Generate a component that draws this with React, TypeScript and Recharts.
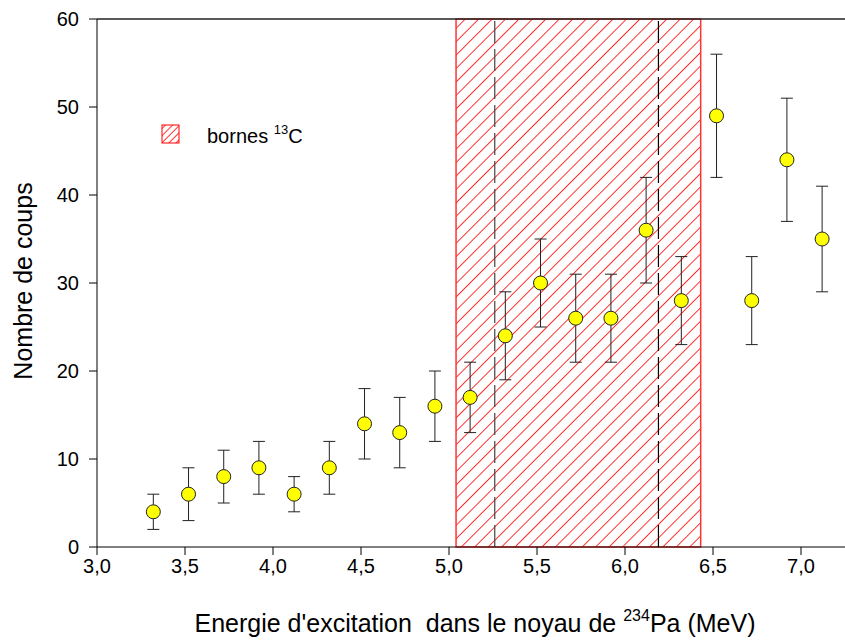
import React from "react";
import {
  ComposedChart,
  Scatter,
  ErrorBar,
  XAxis,
  YAxis,
  ReferenceArea,
  ReferenceLine,
  Customized,
} from "recharts";

// ── Données : spectre d'énergie d'excitation ────────────────────

const ENERGIES = [
  3.32, 3.52, 3.72, 3.92, 4.12, 4.32, 4.52, 4.72, 4.92, 5.12, 5.32, 5.52, 5.72,
  5.92, 6.12, 6.32, 6.52, 6.72, 6.92, 7.12,
];
const COUPS = [4, 6, 8, 9, 6, 9, 14, 13, 16, 17, 24, 30, 26, 26, 36, 28, 49, 28, 44, 35];
const ERREURS = [2, 3, 3, 3, 2, 3, 4, 4, 4, 4, 5, 5, 5, 5, 6, 5, 7, 5, 7, 6];

const X_TICKS = [3, 3.5, 4, 4.5, 5, 5.5, 6, 6.5, 7];
const Y_TICKS = [0, 10, 20, 30, 40, 50, 60];

// bornes 13C
const BORNE_MIN = 5.04;
const BORNE_MAX = 6.43;
const LIMITES = [5.26, 6.19];

const data = ENERGIES.map((x, i) => ({ x, y: COUPS[i], err: ERREURS[i] }));

const FONT = "Arial, 'Liberation Sans', sans-serif";
const fmt = (v: number) => v.toFixed(1).replace(".", ",");

function Point(props: any) {
  const { cx, cy } = props;
  if (cx == null || cy == null) return null;
  return <circle cx={cx} cy={cy} r={7} fill="#ffff00" stroke="#222" strokeWidth={1} />;
}

function XTitle() {
  return (
    <text x={475} y={632} textAnchor="middle" fontFamily={FONT} fontSize={25} fill="#000">
      Energie d'excitation{"\u00a0\u00a0"}dans le noyau de{" "}
      <tspan fontSize={16} dy={-11}>234</tspan>
      <tspan dy={11}>Pa (MeV)</tspan>
    </text>
  );
}

function YTitle() {
  return (
    <text
      x={32}
      y={281}
      transform="rotate(-90 32 281)"
      textAnchor="middle"
      fontFamily={FONT}
      fontSize={25}
      fill="#000"
    >
      Nombre de coups
    </text>
  );
}

function Legende() {
  return (
    <g>
      <rect x={162} y={125} width={17} height={18} fill="url(#hachureLeg)" stroke="#ff0000" strokeWidth={1} />
      <text x={207} y={143} fontFamily={FONT} fontSize={20} fill="#000">
        bornes <tspan fontSize={13} dy={-9}>13</tspan>
        <tspan dy={9}>C</tspan>
      </text>
    </g>
  );
}

export default function App() {
  return (
    <div style={{ position: "absolute", left: 0, top: 0, background: "#fff" }}>
      <ComposedChart
        width={845}
        height={641}
        data={data}
        margin={{ top: 19, right: 0, bottom: 0, left: 0 }}
      >
        <defs>
          <pattern
            id="hachure"
            patternUnits="userSpaceOnUse"
            width={9.5}
            height={9.5}
            patternTransform="rotate(45)"
          >
            <rect width={9.5} height={9.5} fill="#ffffff" />
            <line x1={0} y1={0} x2={0} y2={9.5} stroke="#ff0000" strokeWidth={1.6} />
          </pattern>
          <pattern
            id="hachureLeg"
            patternUnits="userSpaceOnUse"
            width={5}
            height={5}
            patternTransform="rotate(45)"
          >
            <rect width={5} height={5} fill="#ffffff" />
            <line x1={0} y1={0} x2={0} y2={5} stroke="#ff0000" strokeWidth={1.6} />
          </pattern>
        </defs>
        <XAxis
          type="number"
          dataKey="x"
          domain={[3, 7.25]}
          ticks={X_TICKS}
          tickFormatter={fmt}
          allowDataOverflow
          height={94}
          tickSize={8}
          tickMargin={4}
          stroke="#000"
          tick={{ fill: "#000", fontSize: 20, fontFamily: FONT }}
        />
        <YAxis
          type="number"
          domain={[0, 60]}
          ticks={Y_TICKS}
          width={97}
          tickSize={8}
          tickMargin={10}
          stroke="#000"
          tick={{ fill: "#000", fontSize: 20, fontFamily: FONT }}
        />
        <ReferenceLine y={60} stroke="#222" strokeWidth={1.5} />
        <ReferenceArea
          x1={BORNE_MIN}
          x2={BORNE_MAX}
          y1={0}
          y2={60}
          fill="url(#hachure)"
          fillOpacity={1}
          stroke="#ff3333"
          strokeWidth={1.5}
        />
        {LIMITES.map((v, i) => (
          <ReferenceLine
            key={v}
            x={v}
            stroke={i === 0 ? "#444" : "#000"}
            strokeWidth={1.2}
            strokeDasharray="22 6"
          />
        ))}
        <Scatter dataKey="y" shape={<Point />} isAnimationActive={false}>
          <ErrorBar dataKey="err" direction="y" width={6} stroke="#222" strokeWidth={1} />
        </Scatter>
        <Customized component={<Legende />} />
        <Customized component={<XTitle />} />
        <Customized component={<YTitle />} />
      </ComposedChart>
    </div>
  );
}
